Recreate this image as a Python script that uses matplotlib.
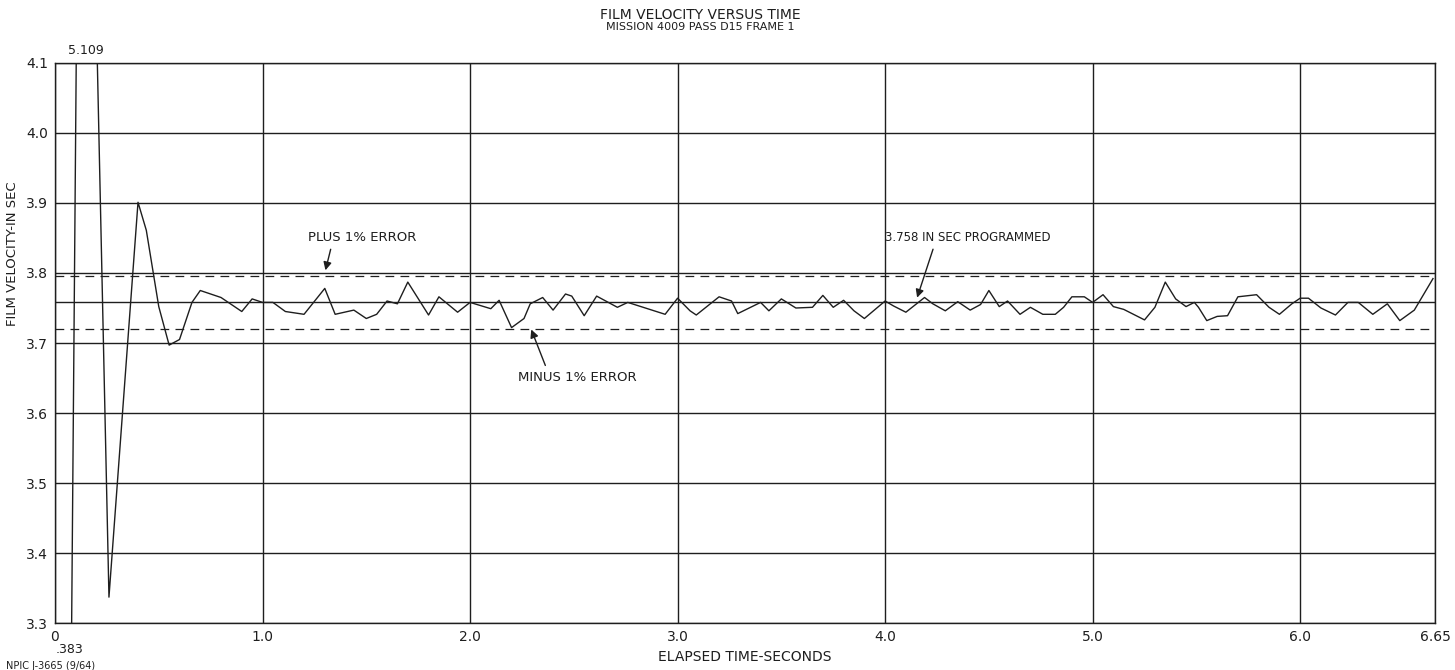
import matplotlib
matplotlib.use("Agg")
import matplotlib.pyplot as plt

plt.rcParams['font.family'] = ['Liberation Sans Narrow', 'DejaVu Sans']

# film velocity readings (seconds, in/sec)
time_s = [0.00, 0.13, 0.26, 0.40, 0.44, 0.50, 0.55, 0.60, 0.66, 0.70,
          0.80, 0.90, 0.95, 1.00, 1.05, 1.11, 1.20, 1.30, 1.35, 1.44,
          1.50, 1.55, 1.60, 1.65, 1.70, 1.80, 1.85, 1.94, 2.00, 2.10,
          2.14, 2.20, 2.26, 2.29, 2.35, 2.40, 2.46, 2.49, 2.55, 2.61,
          2.71, 2.76, 2.94, 3.00, 3.06, 3.09, 3.20, 3.26, 3.29, 3.40,
          3.44, 3.50, 3.57, 3.65, 3.70, 3.75, 3.80, 3.85, 3.90, 4.00,
          4.04, 4.10, 4.19, 4.23, 4.29, 4.35, 4.41, 4.46, 4.50, 4.55,
          4.59, 4.65, 4.70, 4.76, 4.82, 4.86, 4.90, 4.96, 5.00, 5.05,
          5.10, 5.15, 5.25, 5.30, 5.35, 5.40, 5.45, 5.49, 5.51, 5.55,
          5.60, 5.65, 5.70, 5.79, 5.85, 5.90, 5.96, 6.00, 6.04, 6.10,
          6.17, 6.23, 6.28, 6.35, 6.42, 6.48, 6.55, 6.60, 6.64]
velocity = [0.383, 5.109, 3.337, 3.901, 3.861, 3.752, 3.697, 3.705, 3.758, 3.775,
            3.765, 3.745, 3.763, 3.758, 3.758, 3.745, 3.741, 3.778, 3.741, 3.747,
            3.735, 3.741, 3.760, 3.756, 3.787, 3.740, 3.766, 3.744, 3.758, 3.749,
            3.761, 3.722, 3.735, 3.756, 3.765, 3.747, 3.770, 3.767, 3.739, 3.767,
            3.751, 3.758, 3.741, 3.764, 3.746, 3.740, 3.766, 3.760, 3.742, 3.758,
            3.746, 3.763, 3.750, 3.751, 3.768, 3.751, 3.761, 3.746, 3.735, 3.760,
            3.753, 3.744, 3.765, 3.756, 3.746, 3.759, 3.747, 3.755, 3.775, 3.752,
            3.760, 3.741, 3.751, 3.741, 3.741, 3.751, 3.766, 3.766, 3.758, 3.769,
            3.752, 3.748, 3.733, 3.751, 3.787, 3.763, 3.752, 3.758, 3.751, 3.732,
            3.738, 3.739, 3.766, 3.769, 3.751, 3.741, 3.756, 3.764, 3.764, 3.750,
            3.740, 3.758, 3.758, 3.741, 3.756, 3.732, 3.747, 3.772, 3.792]

programmed = 3.758
plus_err = 3.796
minus_err = 3.720

x_ticks = [0, 1.0, 2.0, 3.0, 4.0, 5.0, 6.0, 6.65]
x_labels = ['0', '1.0', '2.0', '3.0', '4.0', '5.0', '6.0', '6.65']
y_ticks = [3.3, 3.4, 3.5, 3.6, 3.7, 3.8, 3.9, 4.0, 4.1]
y_labels = ['3.3', '3.4', '3.5', '3.6', '3.7', '3.8', '3.9', '4.0', '4.1']

ink = '#1e1e1e'

fig = plt.figure(figsize=(14.55, 6.7), dpi=100)
ax = fig.add_axes([0.0378, 0.0701, 0.9485, 0.8359])
ax.set_xlim(0, 6.65)
ax.set_ylim(3.3, 4.1)

for y in y_ticks:
    ax.axhline(y, color=ink, lw=1.0)
for x in x_ticks:
    ax.axvline(x, color=ink, lw=1.0)

ax.axhline(programmed, color=ink, lw=1.0)
ax.axhline(plus_err, color=ink, lw=0.9, ls=(0, (7, 5)))
ax.axhline(minus_err, color=ink, lw=0.9, ls=(0, (7, 5)))

ax.plot(time_s, velocity, color=ink, lw=1.0)

ax.set_xticks(x_ticks)
ax.set_xticklabels(x_labels)
ax.set_yticks(y_ticks)
ax.set_yticklabels(y_labels)
ax.tick_params(length=0, labelsize=10, colors=ink, pad=5)
for s in ax.spines.values():
    s.set_color(ink)
    s.set_linewidth(1.0)

ax.set_xlabel('ELAPSED TIME-SECONDS', fontsize=10, color=ink, labelpad=4)
ax.set_ylabel('FILM VELOCITY-IN SEC', fontsize=9.5, color=ink)
ax.yaxis.set_label_coords(-0.026, 0.66)

arrow = dict(arrowstyle='-|>', color=ink, lw=1.0, mutation_scale=12)
ax.annotate('PLUS 1% ERROR', xy=(1.30, 3.800), xytext=(1.22, 3.851),
            fontsize=9.5, color=ink, va='center', ha='left',
            arrowprops=dict(arrow, relpos=(0.22, 0.0)))
ax.annotate('MINUS 1% ERROR', xy=(2.29, 3.723), xytext=(2.23, 3.651),
            fontsize=9.5, color=ink, va='center', ha='left',
            arrowprops=dict(arrow, relpos=(0.25, 1.0)))
ax.annotate('3.758 IN SEC PROGRAMMED', xy=(4.15, 3.761), xytext=(4.00, 3.851),
            fontsize=8.5, color=ink, va='center', ha='left',
            arrowprops=dict(arrow, relpos=(0.3, 0.0)))

fig.text(0.481, 0.978, 'FILM VELOCITY VERSUS TIME', fontsize=10, color=ink,
         ha='center', va='center')
fig.text(0.481, 0.960, 'MISSION 4009 PASS D15 FRAME 1', fontsize=8, color=ink,
         ha='center', va='center')
fig.text(0.059, 0.924, '5.109', fontsize=9, color=ink, ha='center', va='center')
fig.text(0.048, 0.031, '.383', fontsize=9, color=ink, ha='center', va='center')
fig.text(0.004, 0.006, 'NPIC J-3665 (9/64)', fontsize=7, color=ink, ha='left', va='center')

fig.savefig('out.png', dpi=100)
